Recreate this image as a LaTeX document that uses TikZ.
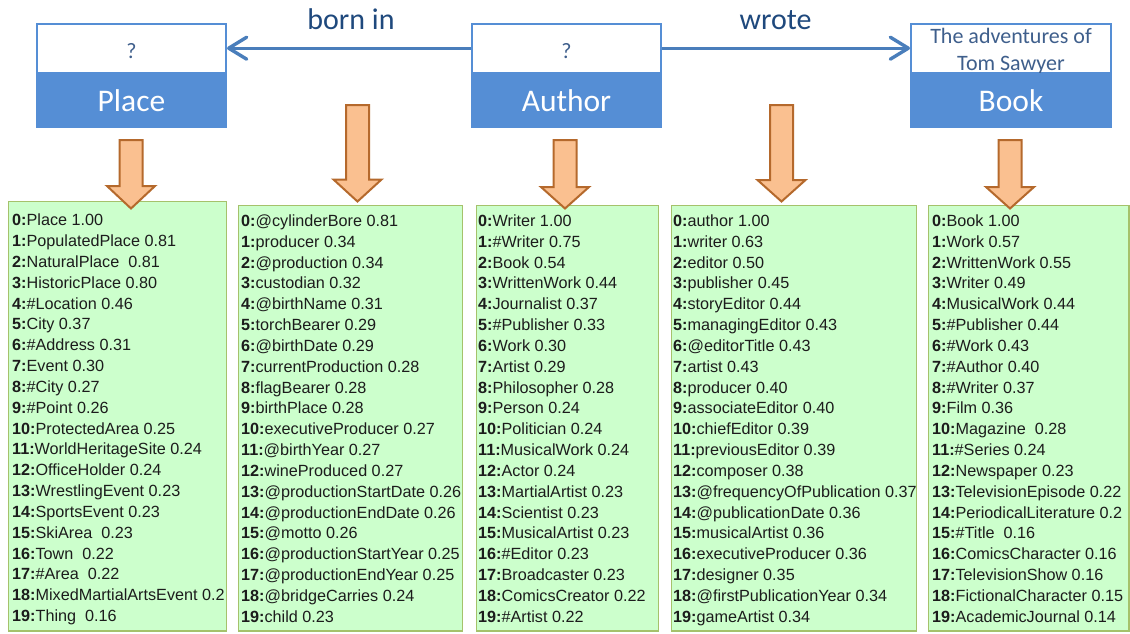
\documentclass[tikz,border=0pt]{standalone}
\usepackage{fontspec}
\setmainfont{Liberation Sans}
\newfontfamily\calib{Carlito}
\usetikzlibrary{arrows.meta}

\definecolor{boxblue}{HTML}{558ED5}
\definecolor{relblue}{HTML}{4A7EBB}
\definecolor{labelblue}{HTML}{1F497D}
\definecolor{qblue}{HTML}{3F5F8C}
\definecolor{arrfill}{HTML}{FAC090}
\definecolor{arrline}{HTML}{B5692C}
\definecolor{listfill}{HTML}{CCFFCC}
\definecolor{listline}{HTML}{A5C26B}
\definecolor{listtext}{HTML}{1C1C1C}

\tikzset{
  valbox/.style={draw=boxblue, line width=2pt, fill=white, minimum height=49pt,
    inner sep=0pt, font=\calib\fontsize{22}{27}\selectfont, text=qblue, align=center},
  typebox/.style={fill=boxblue, minimum height=55.3pt, inner sep=0pt,
    font=\calib\fontsize{31.5}{36}\selectfont, text=white},
  rel/.style={draw=relblue, line width=3.4pt,
    -{Straight Barb[length=18pt,width=22pt,round]}},
  rellabel/.style={font=\calib\fontsize{30}{36}\selectfont, text=labelblue, inner sep=0pt},
  listbox/.style={draw=listline, line width=1.4pt, fill=listfill},
  item/.style={anchor=base west, inner sep=0pt, text=listtext,
    font=\fontsize{16.2}{20}\selectfont},
  downarrow/.style={draw=arrline, fill=arrfill, line width=2pt, line join=miter},
}

% one ranked candidate list: name prefix, left x, first baseline, entries
\newcommand\rankedlist[4]{%
  \foreach \t [count=\i from 0] in {#4}{%
    \node[item] (#1\i) at (#2,{#3+20.83*\i}) {\textbf{\i:}\t};
  }%
}
% thick block arrow pointing down: centre x, top, head start, tip
\newcommand\blockdown[4]{%
  \draw[downarrow] ({#1-11.5},#2) -- ({#1+11.5},#2) -- ({#1+11.5},#3)
    -- ({#1+24},#3) -- (#1,#4) -- ({#1-24},#3) -- ({#1-11.5},#3) -- cycle;
}

\begin{document}
\begin{tikzpicture}[x=1pt,y=-1pt]
\fill[white] (0,0) rectangle (1130,633);
\useasboundingbox (0,0) rectangle (1130,633);

% entity boxes: value on top, type below
\node[valbox, minimum width=189pt] (placeval) at (131.5,48.2) {\raisebox{-10.5pt}[0pt][0pt]{?}};
\node[typebox, minimum width=191pt] (place) at (131.5,100.35) {Place};
\node[valbox, minimum width=189pt] (authval) at (566.5,48.2) {\raisebox{-10.5pt}[0pt][0pt]{?}};
\node[typebox, minimum width=191pt] (author) at (566.5,100.35) {Author};
\node[valbox, minimum width=200pt] (bookval) at (1011,48.2)
  {\raisebox{-8.4pt}[0pt][0pt]{\begin{tabular}{@{}c@{}}The adventures of\\Tom Sawyer\end{tabular}}};
\node[typebox, minimum width=202pt] (book) at (1011,100.35) {Book};

% relations
\draw[rel] (authval.west) -- (placeval.east);
\draw[rel] (authval.east) -- (bookval.west);
\node[rellabel] (bornin) at (351,19) {born in};
\node[rellabel] (wrote) at (775.5,20.3) {wrote};

% candidate lists
\draw[listbox] (8.7,201.7) rectangle (226.3,631);
\draw[listbox] (238.7,205.7) rectangle (462.3,631);
\draw[listbox] (476.7,205.7) rectangle (658.3,631);
\draw[listbox] (671.7,205.7) rectangle (916.3,631);
\draw[listbox] (928.7,205.7) rectangle (1129,631);

\rankedlist{pl}{12}{225.8}{Place 1.00, PopulatedPlace 0.81, NaturalPlace\ \ 0.81,
  HistoricPlace 0.80, \#Location 0.46, City 0.37, \#Address 0.31, Event 0.30,
  \#City 0.27, \#Point 0.26, ProtectedArea 0.25, WorldHeritageSite 0.24,
  OfficeHolder 0.24, WrestlingEvent 0.23, SportsEvent 0.23, SkiArea\ \ 0.23,
  Town\ \ 0.22, \#Area\ \ 0.22, MixedMartialArtsEvent 0.2, Thing\ \ 0.16}
\rankedlist{bi}{241}{226.5}{@cylinderBore 0.81, producer 0.34, @production 0.34,
  custodian 0.32, @birthName 0.31, torchBearer 0.29, @birthDate 0.29,
  currentProduction 0.28, flagBearer 0.28, birthPlace 0.28,
  executiveProducer 0.27, @birthYear 0.27, wineProduced 0.27,
  @productionStartDate 0.26, @productionEndDate 0.26, @motto 0.26,
  @productionStartYear 0.25, @productionEndYear 0.25, @bridgeCarries 0.24,
  child 0.23}
\rankedlist{au}{478}{226.5}{Writer 1.00, \#Writer 0.75, Book 0.54,
  WrittenWork 0.44, Journalist 0.37, \#Publisher 0.33, Work 0.30, Artist 0.29,
  Philosopher 0.28, Person 0.24, Politician 0.24, MusicalWork 0.24, Actor 0.24,
  MartialArtist 0.23, Scientist 0.23, MusicalArtist 0.23, \#Editor 0.23,
  Broadcaster 0.23, ComicsCreator 0.22, \#Artist 0.22}
\rankedlist{wr}{673}{226.5}{author 1.00, writer 0.63, editor 0.50, publisher 0.45,
  storyEditor 0.44, managingEditor 0.43, @editorTitle 0.43, artist 0.43,
  producer 0.40, associateEditor 0.40, chiefEditor 0.39, previousEditor 0.39,
  composer 0.38, @frequencyOfPublication 0.37, @publicationDate 0.36,
  musicalArtist 0.36, executiveProducer 0.36, designer 0.35,
  @firstPublicationYear 0.34, gameArtist 0.34}
\rankedlist{bk}{932}{226.5}{Book 1.00, Work 0.57, WrittenWork 0.55, Writer 0.49,
  MusicalWork 0.44, \#Publisher 0.44, \#Work 0.43, \#Author 0.40, \#Writer 0.37,
  Film 0.36, Magazine\ \ 0.28, \#Series 0.24, Newspaper 0.23,
  TelevisionEpisode 0.22, PeriodicalLiterature 0.2, \#Title\ \ 0.16,
  ComicsCharacter 0.16, TelevisionShow 0.16, FictionalCharacter 0.15,
  AcademicJournal 0.14}

% block arrows leading into the lists
\blockdown{131}{140}{186}{208.5}
\blockdown{357.5}{105}{179.5}{201.5}
\blockdown{565}{140}{187}{208.5}
\blockdown{781.5}{105}{180}{201.5}
\blockdown{1010}{140}{187}{208.5}
\end{tikzpicture}
\end{document}
